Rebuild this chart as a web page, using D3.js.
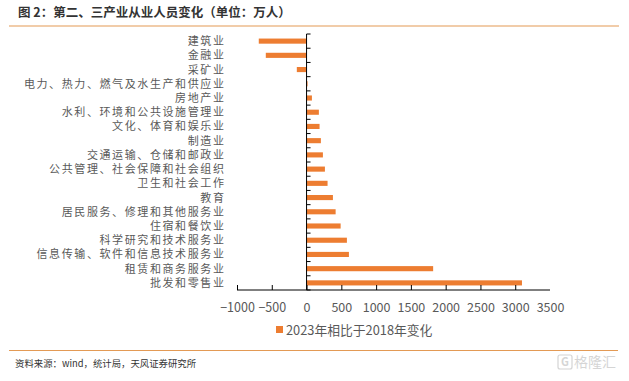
<!DOCTYPE html>
<html><head><meta charset="utf-8">
<script src="https://cdn.jsdelivr.net/npm/d3@7"></script>
<style>body{margin:0;background:#fff;}svg{display:block;font-family:"Noto Sans CJK SC","Microsoft YaHei",sans-serif;}</style>
</head><body>
<script>
const categories = ["建筑业","金融业","采矿业","电力、热力、燃气及水生产和供应业","房地产业","水利、环境和公共设施管理业","文化、体育和娱乐业","制造业","交通运输、仓储和邮政业","公共管理、社会保障和社会组织","卫生和社会工作","教育","居民服务、修理和其他服务业","住宿和餐饮业","科学研究和技术服务业","信息传输、软件和信息技术服务业","租赁和商务服务业","批发和零售业"];
const values = [-687,-586,-140,12,77,177,187,206,235,264,302,379,418,490,580,609,1820,3097];
const xTicks = [-1000,-500,0,500,1000,1500,2000,2500,3000,3500];
const seriesName = "2023年相比于2018年变化";
const title = "图 2：第二、三产业从业人员变化（单位：万人）";
const source = "资料来源：wind，统计局，天风证券研究所";

const W = 629, H = 381;
const svg = d3.select("body").append("svg").attr("width", W).attr("height", H);

// title
svg.append("text").attr("x", 18).attr("y", 17).attr("font-size", 12.5).attr("font-weight", "bold")
  .attr("fill", "#333").text(title);
svg.append("line").attr("x1", 9).attr("x2", 619).attr("y1", 26).attr("y2", 26)
  .attr("stroke", "#E39A55").attr("stroke-width", 1.2);

const x = d3.scaleLinear().domain([-1000, 3500]).range([237, 550]);
const y = d3.scaleBand().domain(categories).range([34, 290]).paddingInner(0.64).paddingOuter(0.32);
const yb = d3.scaleBand().domain(categories).range([34, 290]);

// bars
svg.append("g").selectAll("rect").data(values).join("rect")
  .attr("x", (d) => x(Math.min(0, d)))
  .attr("width", (d) => Math.max(1, Math.abs(x(d) - x(0))))
  .attr("y", (d, i) => y(categories[i]))
  .attr("height", y.bandwidth())
  .attr("fill", "#ED7D31");

// vertical axis at zero
const vg = svg.append("g");
vg.append("line").attr("x1", x(0)).attr("x2", x(0)).attr("y1", 34).attr("y2", 290).attr("stroke", "#000").attr("stroke-width", 1);
const bounds = categories.map(c => yb(c)).concat([290]);
vg.selectAll("line.t").data(bounds).join("line").attr("class", "t")
  .attr("x1", x(0)).attr("x2", x(0) + 4).attr("y1", d => d).attr("y2", d => d)
  .attr("stroke", "#000").attr("stroke-width", 1);

// category labels
svg.append("g").selectAll("text").data(categories).join("text")
  .attr("x", 225.5).attr("y", d => yb(d) + yb.bandwidth() / 2)
  .attr("dy", "0.36em").attr("text-anchor", "end").attr("font-size", 11)
  .attr("letter-spacing", 1.6)
  .attr("fill", "#595959").text(d => d);

// x axis
const xAxis = d3.axisBottom(x).tickValues(xTicks).tickSize(0).tickPadding(13).tickFormat(d3.format("d"));
const xg = svg.append("g").attr("transform", "translate(0,290)").call(xAxis);
xg.select(".domain").attr("stroke", "#000");
xg.selectAll(".tick text").attr("font-size", 12.5).attr("fill", "#595959").attr("font-family", "'Noto Sans CJK SC',sans-serif");
xg.selectAll(".tick").filter(d => d < 3500).append("line").attr("y1", 0).attr("y2", -5).attr("stroke", "#000");
xg.select(".domain").attr("d", `M${x(-1000)},0H${x(3500)}`);

// legend
svg.append("rect").attr("x", 276).attr("y", 326).attr("width", 7).attr("height", 7).attr("fill", "#ED7D31");
svg.append("text").attr("x", 286).attr("y", 334.5).attr("font-size", 12.8).attr("fill", "#595959").text(seriesName);

// bottom line and source
svg.append("line").attr("x1", 9).attr("x2", 618).attr("y1", 350.5).attr("y2", 350.5)
  .attr("stroke", "#E39A55").attr("stroke-width", 1.2);
svg.append("text").attr("x", 15).attr("y", 367).attr("font-size", 9.4).attr("fill", "#333").text(source);

// watermark
const wm = svg.append("g").attr("opacity", 0.35);
wm.append("rect").attr("x", 558).attr("y", 355).attr("width", 14).attr("height", 14).attr("rx", 2)
  .attr("fill", "none").attr("stroke", "#888").attr("stroke-width", 1.2);
wm.append("text").attr("x", 565).attr("y", 366).attr("text-anchor", "middle").attr("font-size", 11).attr("font-weight", "bold").attr("fill", "#888").text("G");
wm.append("text").attr("x", 574).attr("y", 367).attr("font-size", 14).attr("fill", "#888").text("格隆汇");
</script>
</body></html>
